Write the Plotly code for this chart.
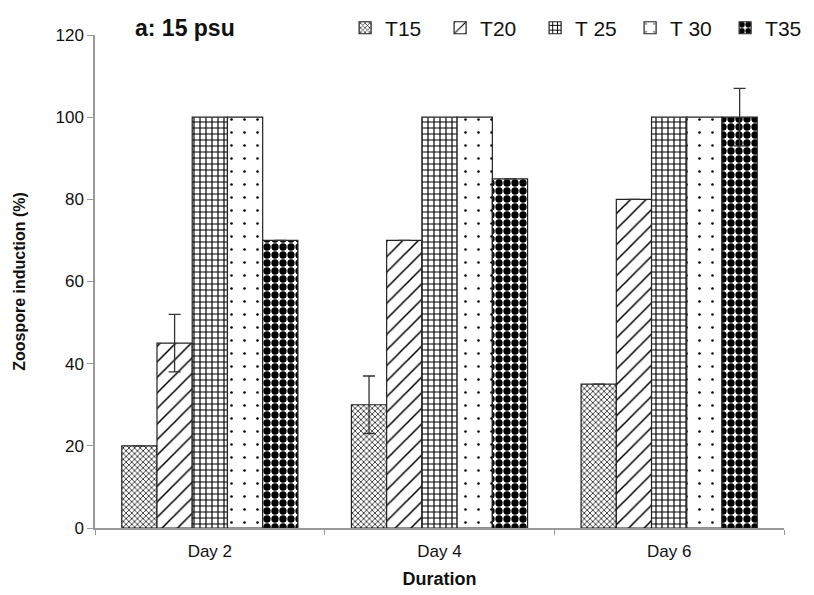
import plotly.graph_objects as go

days = ["Day 2", "Day 4", "Day 6"]
series_names = ["T15", "T20", "T 25", "T 30", "T35"]
t15 = [20, 30, 35]
t20 = [45, 70, 80]
t25 = [100, 100, 100]
t30 = [100, 100, 100]
t35 = [70, 85, 100]
t15_err = [None, 7, None]
t20_err = [7, None, None]
t35_err = [None, None, 7]

values = [t15, t20, t25, t30, t35]
errors = [t15_err, t20_err, None, None, t35_err]

# fill patterns per temperature series
patterns = [
    dict(shape="x", size=4, solidity=0.4, fgcolor="#333333", bgcolor="white", fgopacity=1),
    dict(shape="/", size=11, solidity=0.14, fgcolor="#000000", bgcolor="white", fgopacity=1),
    dict(shape="+", size=6, solidity=0.35, fgcolor="#000000", bgcolor="white", fgopacity=1),
    dict(shape=".", size=13, solidity=0.03, fgcolor="#000000", bgcolor="white", fgopacity=1),
    dict(shape=".", size=8, solidity=0.66, fgcolor="#000000", bgcolor="white", fgopacity=1),
]

fig = go.Figure()
for name, vals, err, pat in zip(series_names, values, errors, patterns):
    kw = {}
    if err is not None:
        kw["error_y"] = dict(type="data", array=err, visible=True,
                             color="#333333", thickness=1.3, width=6)
    fig.add_trace(go.Bar(
        x=days, y=vals, name=name,
        marker=dict(color="white", pattern=pat,
                    line=dict(color="#222222", width=1.2)),
        **kw,
    ))

font_family = "Liberation Sans, Arial, sans-serif"

fig.update_layout(
    width=814, height=595,
    margin=dict(l=95, r=30, t=35, b=67, autoexpand=False),
    paper_bgcolor="white", plot_bgcolor="white",
    barmode="group", bargap=0.233, bargroupgap=0,
    font=dict(family=font_family, color="#111111"),
    showlegend=True,
    legend=dict(orientation="h", x=0.363, y=1.014, xanchor="left", yanchor="middle",
                font=dict(size=21, family=font_family), bgcolor="rgba(0,0,0,0)",
                traceorder="normal", itemwidth=30,
                entrywidth=50, entrywidthmode="pixels"),
    xaxis=dict(
        showline=True, linecolor="#999999", linewidth=1.5,
        ticks="outside", tickson="boundaries", ticklen=5, tickcolor="#999999",
        tickfont=dict(size=17), ticklabelstandoff=7,
        title=dict(text="<b>Duration</b>", font=dict(size=18), standoff=12),
        showgrid=False,
    ),
    yaxis=dict(
        range=[0, 120], dtick=20,
        showline=True, linecolor="#999999", linewidth=1.5,
        ticks="outside", ticklen=6, tickcolor="#999999",
        tickfont=dict(size=17),
        title=dict(text="<b>Zoospore induction (%)</b>", font=dict(size=16), standoff=26),
        showgrid=False, zeroline=False,
    ),
    annotations=[dict(
        text="<b>a: 15 psu</b>", xref="paper", yref="paper",
        x=0.055, y=1.014, xanchor="left", yanchor="middle",
        showarrow=False, font=dict(size=23, family=font_family),
    )],
)

fig.write_html("out.html")
